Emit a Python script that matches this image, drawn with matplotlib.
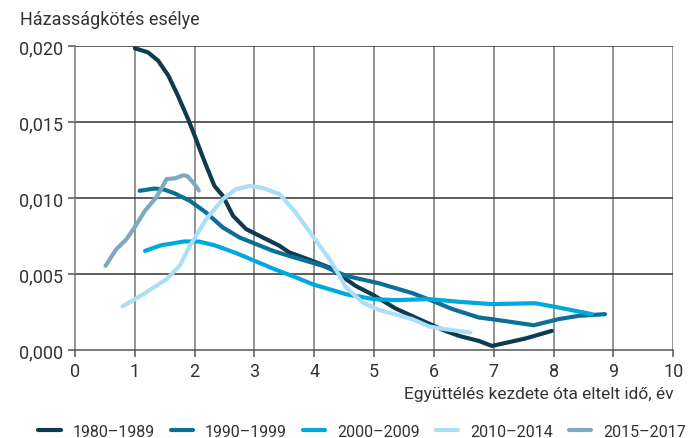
import matplotlib.pyplot as plt
from matplotlib.ticker import FuncFormatter

plt.rcParams['font.family'] = ['Roboto', 'DejaVu Sans']

labels = ['1980–1989', '1990–1999', '2000–2009', '2010–2014', '2015–2017']
colors = ['#0d3b52', '#0b6f96', '#00a9dd', '#abdff7', '#7fa9c0']

x_1980 = [1.0, 1.22, 1.39, 1.56, 1.72, 1.89, 2.0, 2.17, 2.33, 2.47, 2.64, 2.86, 3.14, 3.42, 3.58,
          3.86, 4.25, 4.69, 4.99, 5.36, 5.75, 6.19, 6.42, 6.75, 6.97, 7.53, 7.97]
y_1980 = [0.01985, 0.01958, 0.01903, 0.01805, 0.01673, 0.0152, 0.0141, 0.01235, 0.0108, 0.01015,
          0.00884, 0.00796, 0.00741, 0.00686, 0.00643, 0.00603, 0.00544, 0.00423, 0.00362, 0.00274,
          0.00204, 0.00127, 0.00094, 0.00061, 0.00028, 0.00077, 0.00127]

x_1990 = [1.08, 1.33, 1.5, 1.67, 1.92, 2.19, 2.47, 2.75, 3.03, 3.31, 3.58, 4.14, 4.53, 5.08, 5.64,
          5.97, 6.31, 6.75, 6.97, 7.67, 8.08, 8.42, 8.86]
y_1990 = [0.01048, 0.01063, 0.01055, 0.0103, 0.00982, 0.00905, 0.00807, 0.00741, 0.00697, 0.00653,
          0.0062, 0.00555, 0.00489, 0.0044, 0.00375, 0.00325, 0.0027, 0.00215, 0.00204, 0.00164,
          0.00204, 0.00226, 0.00237]

x_2000 = [1.17, 1.44, 1.83, 2.06, 2.33, 2.67, 3.0, 3.33, 3.67, 3.97, 4.53, 4.99, 5.36, 5.92, 6.42,
          6.97, 7.69, 8.08, 8.64]
y_2000 = [0.00653, 0.0069, 0.00715, 0.00715, 0.0069, 0.00642, 0.00588, 0.00533, 0.00482, 0.00434,
          0.00368, 0.00336, 0.00329, 0.00336, 0.00318, 0.00303, 0.00309, 0.00281, 0.00237]

x_2010 = [0.79, 1.14, 1.53, 1.75, 1.92, 2.19, 2.47, 2.69, 2.92, 3.14, 3.42, 3.69, 3.97, 4.25, 4.39,
          4.53, 4.81, 5.08, 5.64, 5.92, 6.19, 6.61]
y_2010 = [0.00287, 0.00368, 0.00467, 0.00555, 0.00686, 0.0086, 0.00993, 0.01059, 0.0108, 0.01066,
          0.01026, 0.00905, 0.00752, 0.006, 0.0051, 0.00412, 0.00313, 0.00265, 0.00204, 0.00156,
          0.00138, 0.00116]

x_2015 = [0.51, 0.69, 0.86, 1.0, 1.17, 1.36, 1.44, 1.53, 1.67, 1.81, 1.88, 2.0, 2.07]
y_2015 = [0.00555, 0.00664, 0.0073, 0.0081, 0.00917, 0.01006, 0.0106, 0.01125, 0.0113, 0.0115,
          0.01144, 0.0109, 0.0105]

series = [(x_1980, y_1980), (x_1990, y_1990), (x_2000, y_2000), (x_2010, y_2010), (x_2015, y_2015)]

fig = plt.figure(figsize=(6.98, 4.39), dpi=100)
ax = fig.add_axes([0.1075, 0.2, 0.857, 0.693])

for (xs, ys), lab, col in zip(series, labels, colors):
    ax.plot(xs, ys, color=col, lw=3, label=lab, solid_capstyle='round', solid_joinstyle='round', zorder=3)

ax.set_xlim(0, 10)
ax.set_ylim(0, 0.020)
ax.set_xticks(range(0, 11))
ax.set_yticks([0, 0.005, 0.010, 0.015, 0.020])
ax.yaxis.set_major_formatter(FuncFormatter(lambda v, p: f'{v:.3f}'.replace('.', ',')))

for x in range(1, 11):
    ax.axvline(x, color='#777777', lw=1.1, zorder=1)
for y in [0.005, 0.010, 0.015, 0.020]:
    ax.axhline(y, color='#333333', lw=1.1, zorder=1)

for s in ['top', 'right']:
    ax.spines[s].set_visible(False)
ax.spines['left'].set_color('#777777')
ax.spines['bottom'].set_color('#555555')
ax.spines['left'].set_linewidth(1.1)
ax.spines['bottom'].set_linewidth(1.1)
ax.tick_params(axis='both', colors='#555555', labelcolor='#333333', labelsize=13, length=5, width=1.1)

fig.text(0.029, 0.955, 'Házasságkötés esélye', fontsize=13, color='#333333', va='center')
ax.set_xlabel('Együttélés kezdete óta eltelt idő, év', fontsize=12.5, color='#333333', loc='right', labelpad=4)

fig.legend(loc='lower center', bbox_to_anchor=(0.519, -0.035), ncol=5, frameon=False, fontsize=11.5,
           handlelength=1.4, columnspacing=1.0, handletextpad=0.75, labelcolor='#333333')

fig.savefig('out.png', dpi=100)
